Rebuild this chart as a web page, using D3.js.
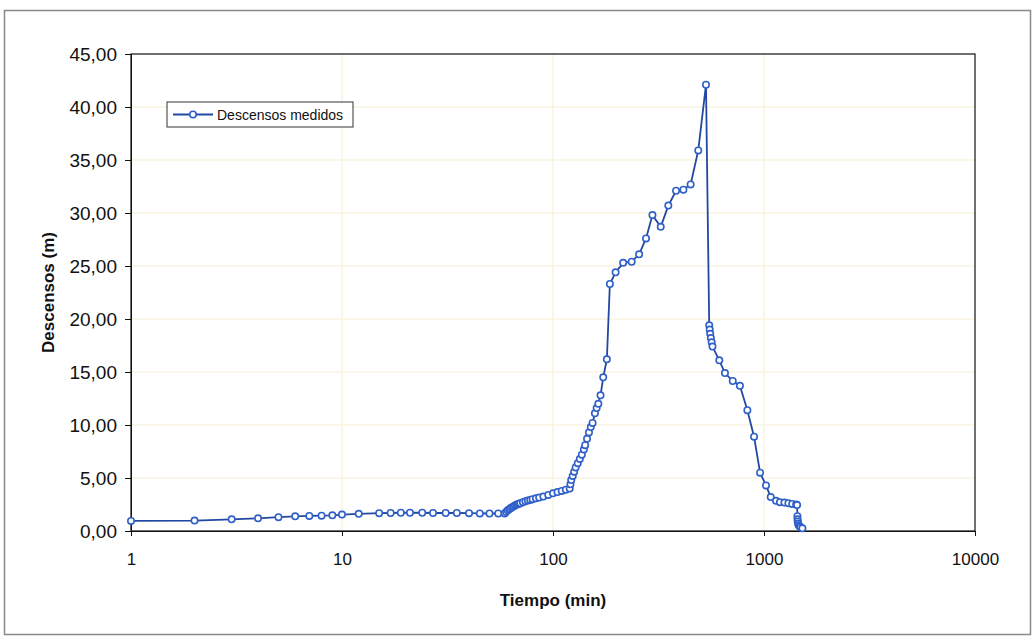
<!DOCTYPE html>
<html>
<meta charset="utf-8">
<style>
  body { margin: 0; background: #fff; }
  svg { font-family: "Liberation Sans", Arial, sans-serif; }
  .axis path, .axis line { stroke: #111; shape-rendering: crispEdges; }
  .axis text { fill: #111; font-size: 17px; }
  .yaxis text { font-size: 19px; }
  .grid line { stroke: #f8f5e2; stroke-width: 1.5; }
  .axis-title { font-size: 17px; font-weight: bold; fill: #111; }
</style>
<body>
<script src="https://d3js.org/d3.v7.min.js"></script>
<script>
// tiempo (min) and descensos (m)
var tiempo = [1, 2, 3, 4, 5, 6, 7, 8, 9, 10, 12, 15, 17, 19, 21, 24, 27, 31, 35, 40, 45, 50, 55, 59,
  60, 61, 62, 63, 64, 65, 66, 67, 68, 69, 70, 72, 74, 76, 78, 80, 83, 86, 90, 95, 100, 105, 110, 115, 120,
  121, 122, 124, 126, 128, 131, 134, 137, 140, 142, 145, 148, 151, 154, 158, 161, 164, 168, 173, 180,
  186, 198, 215, 236, 256, 276, 296, 324, 352, 383, 415, 449, 488, 531,
  550, 553, 556, 560, 565, 570, 614, 653, 711, 769, 834, 897, 958, 1022, 1076,
  1140, 1190, 1250, 1305, 1360, 1420, 1435, 1440, 1442, 1445, 1450, 1460, 1475, 1490, 1520];

var descensos = [0.95, 0.98, 1.1, 1.2, 1.3, 1.38, 1.42, 1.45, 1.48, 1.55, 1.62, 1.68, 1.7, 1.72, 1.72, 1.72, 1.7, 1.7, 1.7, 1.68, 1.66, 1.65, 1.65, 1.65,
  1.8, 1.95, 2.05, 2.15, 2.25, 2.32, 2.4, 2.47, 2.52, 2.57, 2.62, 2.72, 2.8, 2.87, 2.93, 3.0, 3.08, 3.15, 3.25, 3.4, 3.55, 3.67, 3.78, 3.9, 4.0,
  4.4, 4.8, 5.2, 5.6, 6.0, 6.4, 6.8, 7.2, 7.7, 8.1, 8.7, 9.3, 9.8, 10.2, 11.1, 11.6, 12.0, 12.8, 14.5, 16.2,
  23.3, 24.4, 25.3, 25.4, 26.1, 27.6, 29.8, 28.7, 30.7, 32.1, 32.2, 32.7, 35.9, 42.1,
  19.4, 19.0, 18.6, 18.2, 17.8, 17.4, 16.1, 14.9, 14.15, 13.7, 11.4, 8.9, 5.5, 4.3, 3.2,
  2.85, 2.72, 2.68, 2.62, 2.55, 2.5, 2.45, 1.4, 1.1, 0.9, 0.7, 0.55, 0.45, 0.35, 0.25];

var xTicks = [1, 10, 100, 1000, 10000];
var yTicks = [0, 5, 10, 15, 20, 25, 30, 35, 40, 45];
var serieName = "Descensos medidos";

var width = 1036, height = 641;
var margin = {top: 54, right: 61, bottom: 110, left: 131};

var lineColor = "#2348a3", markColor = "#2f5fc8";

var data = tiempo.map(function(t, i) { return {t: t, v: descensos[i]}; });

var svg = d3.select("body")
            .append("svg")
            .attr("width", width)
            .attr("height", height);

// outer frame of the chart
svg.append("rect")
   .attr("x", 4.5).attr("y", 10.5)
   .attr("width", 1026).attr("height", 624)
   .style("fill", "#fff")
   .style("stroke", "#8a8a8a")
   .style("stroke-width", 1.5);

var x = d3.scaleLog()
          .domain([1, 10000])
          .range([margin.left, width - margin.right]);

var y = d3.scaleLinear()
          .domain([0, 45])
          .range([height - margin.bottom, margin.top]);

// faint gridlines
var grid = svg.append("g").attr("class", "grid");
grid.selectAll(".h")
    .data(yTicks.slice(1, -1))
  .enter().append("line")
    .attr("x1", x(1)).attr("x2", x(10000))
    .attr("y1", function(d) { return y(d); })
    .attr("y2", function(d) { return y(d); });
grid.selectAll(".v")
    .data(xTicks.slice(1, -1))
  .enter().append("line")
    .attr("y1", y(0)).attr("y2", y(45))
    .attr("x1", function(d) { return x(d); })
    .attr("x2", function(d) { return x(d); });

// plot frame
svg.append("rect")
   .attr("x", x(1)).attr("y", y(45))
   .attr("width", x(10000) - x(1)).attr("height", y(0) - y(45))
   .style("fill", "none")
   .style("stroke", "#111")
   .style("stroke-width", 1.2);

var fmt = d3.format(".2f");

svg.append("g")
   .attr("class", "axis")
   .attr("transform", "translate(0," + y(0) + ")")
   .call(d3.axisBottom(x).tickValues(xTicks).tickFormat(d3.format("d")).tickSize(5).tickPadding(17));

svg.append("g")
   .attr("class", "axis yaxis")
   .attr("transform", "translate(" + x(1) + ",0)")
   .call(d3.axisLeft(y).tickValues(yTicks).tickFormat(function(d) { return fmt(d).replace(".", ","); }).tickSize(6).tickPadding(8));

// series
var line = d3.line()
             .x(function(d) { return x(d.t); })
             .y(function(d) { return y(d.v); });

svg.append("path")
   .datum(data)
   .attr("d", line)
   .style("fill", "none")
   .style("stroke", lineColor)
   .style("stroke-width", 1.8);

svg.append("g")
   .selectAll("circle")
   .data(data)
 .enter().append("circle")
   .attr("cx", function(d) { return x(d.t); })
   .attr("cy", function(d) { return y(d.v); })
   .attr("r", 3.2)
   .style("fill", "#fff")
   .style("stroke", markColor)
   .style("stroke-width", 1.6);

// axis titles
svg.append("text")
   .attr("class", "axis-title")
   .attr("x", (x(1) + x(10000)) / 2)
   .attr("y", 606)
   .attr("text-anchor", "middle")
   .text("Tiempo (min)");

svg.append("text")
   .attr("class", "axis-title")
   .attr("transform", "translate(54," + (y(0) + y(45)) / 2 + ") rotate(-90)")
   .attr("text-anchor", "middle")
   .text("Descensos (m)");

// legend
var legend = svg.append("g").attr("transform", "translate(167,102)");
legend.append("rect")
      .attr("width", 186).attr("height", 25)
      .style("fill", "#fff")
      .style("stroke", "#333")
      .style("stroke-width", 1);
legend.append("line")
      .attr("x1", 6).attr("x2", 46)
      .attr("y1", 12.5).attr("y2", 12.5)
      .style("stroke", lineColor)
      .style("stroke-width", 1.8);
legend.append("circle")
      .attr("cx", 26).attr("cy", 12.5).attr("r", 3.2)
      .style("fill", "#fff")
      .style("stroke", markColor)
      .style("stroke-width", 1.6);
legend.append("text")
      .attr("x", 50).attr("y", 17.5)
      .style("font-size", "14px")
      .style("fill", "#111")
      .text(serieName);
</script>
</body>
</html>
